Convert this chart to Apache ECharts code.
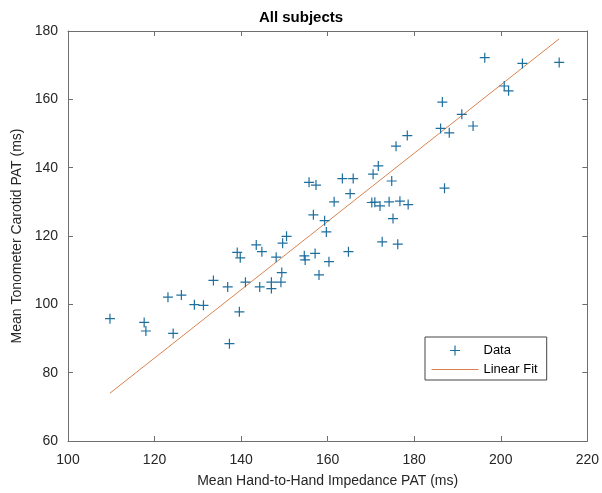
<!DOCTYPE html>
<html>
<head>
<meta charset="utf-8">
<script src="https://cdn.jsdelivr.net/npm/echarts@6/dist/echarts.min.js"></script>
<style>
  html, body { margin: 0; padding: 0; background: #fff; }
  #chart { width: 602px; height: 493px; }
</style>
</head>
<body>
<div id="chart"></div>
<script>
// data
var handPAT = [109.7, 117.6, 118.0, 124.3, 123.1, 126.2, 129.2, 131.3, 133.6, 136.9,
  137.3, 139.6, 139.1, 139.8, 141.0, 143.5, 144.8, 144.3, 147.0, 147.0,
  148.1, 149.4, 149.2, 149.6, 150.5, 154.6, 154.8, 157.1, 158.0, 159.7,
  160.3, 159.3, 155.7, 157.3, 156.7, 164.8, 172.6, 176.2, 175.1, 161.5,
  165.2, 163.4, 165.9, 170.2, 170.9, 172.1, 174.2, 176.7, 178.6, 174.8,
  170.5, 171.7, 175.8, 178.4, 187.0, 186.1, 188.1, 186.5, 191.0, 193.6,
  200.8, 201.8, 196.3, 205.0, 213.5]
var carotidPAT = [95.8, 94.7, 92.2, 91.5, 102.1, 102.7, 99.9, 99.7, 107.0, 105.1,
  88.5, 97.8, 115.2, 113.6, 106.5, 117.4, 115.4, 105.1, 106.5, 104.6,
  113.8, 109.3, 106.5, 117.9, 119.9, 114.2, 113.0, 114.9, 108.6, 121.2,
  112.5, 124.5, 135.7, 134.9, 126.2, 115.4, 118.3, 117.6, 125.1, 130.0,
  132.4, 136.8, 136.8, 129.8, 129.9, 128.8, 130.0, 130.2, 129.2, 136.1,
  138.1, 140.5, 146.3, 149.4, 134.0, 151.5, 150.2, 159.2, 155.6, 152.2,
  163.9, 162.5, 172.2, 170.5, 170.8]
var fitX = [109.7, 213.5]
var fitY = [74.0, 177.7]

var plus = 'path://M5,0 L5,10 M0,5 L10,5'
// legend icons: the leading moves pin the box to 47x10
var plusIcon = 'path://M0,0 M47,10 M23.5,0 L23.5,10 M18.5,5 L28.5,5'
var lineIcon = 'path://M0,0 M47,10 M0,5 L47,5'
var dataColor = '#1f6f9e'
var fitColor = '#d9824f'
var textColor = '#262626'
var frameColor = '#6e6e6e'
var font = 'Arial, "Liberation Sans", sans-serif'

var chart = echarts.init(document.getElementById('chart'))

function boxAxis (pos, extra) {
  var a = {
    position: pos,
    interval: 20,
    axisLine: { show: true, onZero: false, lineStyle: { color: frameColor, width: 1 } },
    axisTick: { show: true, inside: true, length: 5, lineStyle: { color: frameColor } },
    axisLabel: { show: false },
    splitLine: { show: false }
  }
  return Object.assign(a, extra)
}

chart.setOption({
  animation: false,
  title: {
    text: 'All subjects',
    left: 'center',
    top: 5,
    textStyle: { fontFamily: font, fontSize: 15, fontWeight: 'bold', color: '#000' }
  },
  grid: { left: 68, right: 13, top: 31, bottom: 52 },
  legend: {
    orient: 'vertical',
    left: 425,
    top: 337,
    padding: [6, 9, 3, 4],
    itemGap: 4,
    itemWidth: 47,
    itemHeight: 10,
    backgroundColor: '#fff',
    borderColor: '#444',
    borderWidth: 1,
    borderRadius: 0,
    textStyle: { fontFamily: font, fontSize: 13, color: '#000' },
    data: [
      { name: 'Data', icon: plusIcon, itemStyle: { color: 'none', borderColor: dataColor, borderWidth: 1.2 } },
      { name: 'Linear Fit', icon: lineIcon, itemStyle: { color: 'none', borderColor: fitColor, borderWidth: 1 } }
    ]
  },
  xAxis: [
    boxAxis('bottom', {
      type: 'value', min: 100, max: 220,
      name: 'Mean Hand-to-Hand Impedance PAT (ms)',
      nameLocation: 'middle',
      nameGap: 33,
      nameTextStyle: { fontFamily: font, fontSize: 14, color: textColor },
      axisLabel: { show: true, fontFamily: font, fontSize: 14, color: textColor, margin: 12 }
    }),
    boxAxis('top', { type: 'value', min: 100, max: 220 })
  ],
  yAxis: [
    boxAxis('left', {
      type: 'value', min: 60, max: 180,
      name: 'Mean Tonometer Carotid PAT (ms)',
      nameLocation: 'middle',
      nameGap: 43,
      nameTextStyle: { fontFamily: font, fontSize: 14, color: textColor },
      axisLabel: { show: true, fontFamily: font, fontSize: 14, color: textColor, margin: 10 }
    }),
    boxAxis('right', { type: 'value', min: 60, max: 180 })
  ],
  series: [
    {
      name: 'Data',
      type: 'scatter',
      symbol: plus,
      symbolSize: 10,
      itemStyle: { color: 'none', borderColor: dataColor, borderWidth: 1.2, opacity: 1 },
      data: handPAT.map(function (x, i) { return [x, carotidPAT[i]] }),
      z: 3
    },
    {
      name: 'Linear Fit',
      type: 'line',
      symbol: 'none',
      lineStyle: { color: fitColor, width: 1 },
      data: fitX.map(function (x, i) { return [x, fitY[i]] }),
      z: 2
    }
  ]
})
</script>
</body>
</html>
